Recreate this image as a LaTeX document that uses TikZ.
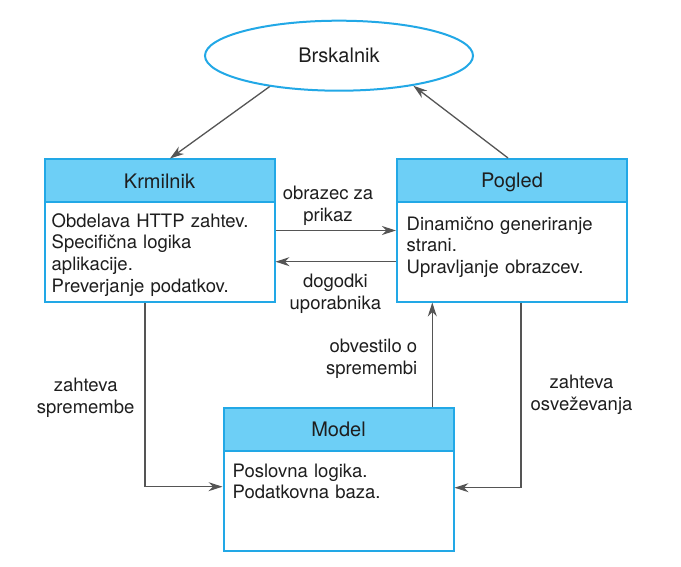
\documentclass[tikz,border=0pt]{standalone}
\usepackage{fontspec}
\setmainfont{TeX Gyre Heros}
\usetikzlibrary{shapes.geometric,arrows.meta,calc}
\definecolor{bline}{HTML}{22A8E6}
\definecolor{bhead}{HTML}{6DCFF6}
\definecolor{arrc}{HTML}{555555}
\definecolor{txt}{HTML}{1E1E1E}
\begin{document}
\begin{tikzpicture}[x=1pt,y=-1pt,
  font=\fontsize{18.5}{21.7}\selectfont, text=txt,
  hfont/.style={font=\fontsize{20}{24}\selectfont},
  box/.style={draw=bline, line width=2pt, fill=white, minimum width=230pt, minimum height=142.5pt, anchor=north west, inner sep=0pt},
  head/.style={draw=bline, line width=2pt, fill=bhead, minimum width=230pt, minimum height=43pt, anchor=north west, inner sep=0pt, text height=14.5pt, text depth=0pt, hfont},
  body/.style={anchor=north west, align=left, inner sep=0pt},
  lbl/.style={align=center, inner sep=0pt},
  arr/.style={draw=arrc, line width=1.3pt, -{Stealth[length=14pt,width=9pt,inset=4.5pt]}}]
\useasboundingbox (0,0) rectangle (681,567);
% Browser
\node[ellipse, draw=bline, line width=2pt, minimum width=268pt, minimum height=70pt, inner sep=0pt, hfont] (brs) at (339,55.7) {Brskalnik};
% Controller
\node[box] (krm) at (43.5,158.5) {};
\node[head] (krmh) at (43.5,158.5) {Krmilnik};
\node[body, text width=220pt] (krmt) at (51.5,213) {Obdelava HTTP zahtev.\\Specifična logika\\aplikacije.\\Preverjanje podatkov.};
% View
\node[box] (pog) at (396,158) {};
\node[head] (pogh) at (396,158) {Pogled};
\node[body, text width=220pt] (pogt) at (406.5,216.5) {Dinamično generiranje\\strani.\\Upravljanje obrazcev.};
% Model
\node[box] (mod) at (222.5,407) {};
\node[head] (modh) at (222.5,407) {Model};
\node[body, text width=220pt] (modt) at (232.5,463.5) {Poslovna logika.\\Podatkovna baza.};
% Arrows
\draw[arr] (brs.204) -- ($(krm.north west)+(126.5,0)$);
\draw[arr] ($(pog.north west)+(112,0)$) -- (brs.338);
\draw[arr] ($(krm.north east)+(0,72)$) -- ($(pog.north west)+(0,72.5)$);
\draw[arr] ($(pog.north west)+(0,103.7)$) -- ($(krm.north east)+(0,103.2)$);
\draw[arr] ($(krm.south west)+(101.6,0)$) |- ($(mod.north west)+(0,79.7)$);
\draw[arr] ($(mod.north west)+(209.8,0)$) -- ($(pog.south west)+(36.3,0)$);
\draw[arr] ($(pog.south west)+(125,0)$) |- ($(mod.north east)+(0,80.7)$);
% Labels
\node[lbl] (l1) at (328,205.5) {obrazec za\\prikaz};
\node[lbl] (l2) at (335.4,294) {dogodki\\uporabnika};
\node[lbl] (l3) at (85.7,398) {zahteva\\spremembe};
\node[lbl, align=right, anchor=east] (l4) at (417.5,359) {obvestilo o\\spremembi};
\node[lbl] (l5) at (581.5,395) {zahteva\\osveževanja};
\end{tikzpicture}
\end{document}
